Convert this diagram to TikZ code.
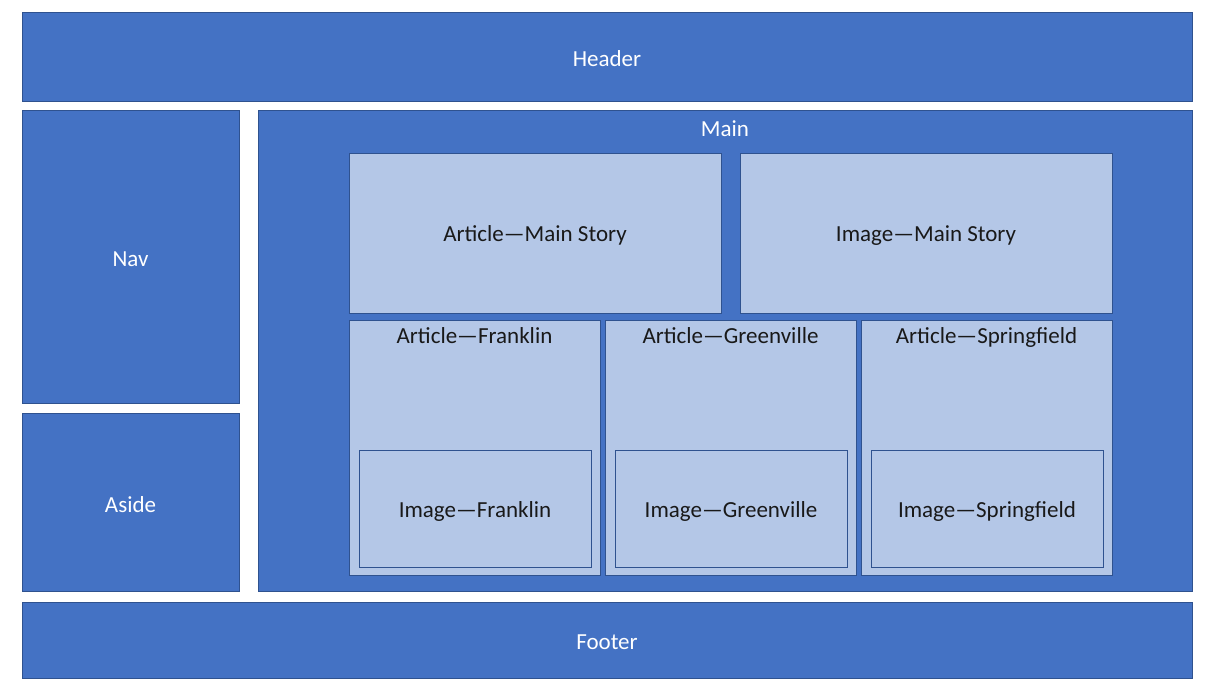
\documentclass[tikz,border=0pt]{standalone}
\usepackage{fontspec}
\setmainfont{Carlito}
\definecolor{boxblue}{HTML}{4472C4}
\definecolor{boxedge}{HTML}{2F528F}
\definecolor{paneblue}{HTML}{B4C7E7}
\begin{document}
\begin{tikzpicture}[x=1pt,y=-1pt,
  region/.style={draw=boxedge,line width=0.8pt,fill=boxblue,text=white,font=\fontsize{23}{27}\selectfont},
  pane/.style={draw=boxedge,line width=0.7pt,fill=paneblue,text=black!90,font=\fontsize{23}{27}\selectfont},
  centred/.style={midway,yshift=-2.5pt},
  caption/.style={font=\fontsize{23}{27}\selectfont,anchor=base}]
\useasboundingbox (0,0) rectangle (1213,691);
% page regions
\draw[region] (22,12) rectangle (1192,101) node[centred] (header) {Header};
\draw[region] (22,110) rectangle (239,403) node[centred] (nav) {Nav};
\draw[region] (22,413) rectangle (239,591) node[centred] (aside) {Aside};
\draw[region] (258,110) rectangle (1192,591);
\node[caption,text=white] (main) at (725,136) {Main};
\draw[region] (22,602) rectangle (1192,678) node[centred] (footer) {Footer};
% main story
\draw[pane] (349,153) rectangle (721,313) node[centred] (artmain) {Article—Main Story};
\draw[pane] (740,153) rectangle (1112,313) node[centred] (imgmain) {Image—Main Story};
% local articles with their images
\foreach \x/\name in {349/Franklin,605/Greenville,861/Springfield}{
  \draw[pane] (\x,320) rectangle ({\x+251},575);
  \node[caption,text=black!90] (art\name) at ({\x+125.5},343) {Article—\name};
  \draw[pane] ({\x+10},450) rectangle ({\x+242},567) node[centred] (img\name) {Image—\name};
}
\end{tikzpicture}
\end{document}
